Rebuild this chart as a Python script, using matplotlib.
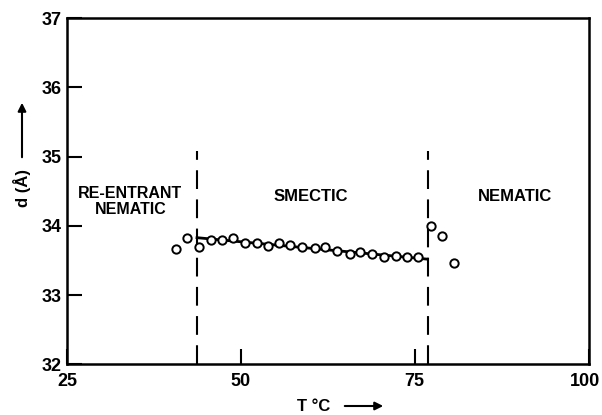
import matplotlib
matplotlib.use("Agg")
import matplotlib.pyplot as plt
import matplotlib.transforms as mtransforms

# Data
T_reentrant = [40.7, 42.3]
d_reentrant = [33.67, 33.83]
T_smectic = [44.0, 45.7, 47.3, 48.9, 50.6, 52.3, 53.9, 55.5, 57.1, 58.8, 60.7,
             62.1, 63.8, 65.7, 67.2, 68.8, 70.6, 72.3, 73.9, 75.5]
d_smectic = [33.69, 33.80, 33.79, 33.82, 33.76, 33.75, 33.71, 33.76, 33.72, 33.70, 33.68,
             33.70, 33.64, 33.60, 33.62, 33.59, 33.55, 33.57, 33.55, 33.55]
T_nematic = [77.3, 78.9, 80.6]
d_nematic = [34.00, 33.85, 33.47]
fit_T = [43.7, 76.85]
fit_d = [33.83, 33.52]
transitions = [43.7, 76.85]
xticks = [25, 50, 75, 100]
yticks = [32, 33, 34, 35, 36, 37]

plt.rcParams['font.family'] = ['Liberation Sans', 'DejaVu Sans']
fig = plt.figure(figsize=(6.02, 4.15), dpi=100)
ax = fig.add_axes([0.1113, 0.1217, 0.8663, 0.8349])
ax.set_xlim(25, 100)
ax.set_ylim(32, 37)

ax.plot(fit_T, fit_d, color='black', lw=2.0, zorder=2)
mk = dict(marker='o', ls='none', ms=6.0, mfc='white', mec='black', mew=1.4, zorder=3)
ax.plot(T_reentrant, d_reentrant, **mk)
ax.plot(T_smectic, d_smectic, **mk)
ax.plot(T_nematic, d_nematic, **mk)

for t in transitions:
    ax.plot([t, t], [32, 35.08], color='black', lw=1.5, dashes=(9, 5), zorder=1)

ax.text(34.1, 34.35, "RE-ENTRANT\nNEMATIC", ha='center', va='center', fontsize=11.5,
        fontweight='bold', linespacing=1.1)
ax.text(60.0, 34.42, "SMECTIC", ha='center', va='center', fontsize=12, fontweight='bold')
ax.text(89.4, 34.42, "NEMATIC", ha='center', va='center', fontsize=12, fontweight='bold')

ax.set_xticks(xticks)
ax.set_xticklabels([str(v) for v in xticks], fontsize=13, fontweight='bold')
ax.set_yticks(yticks)
ax.set_yticklabels([str(v) for v in yticks], fontsize=13, fontweight='bold')
ax.tick_params(axis='both', direction='in', length=11, width=1.5, top=False, right=False)
ax.tick_params(axis='x', pad=6)
ax.tick_params(axis='y', pad=4)
for s in ax.spines.values():
    s.set_linewidth(1.8)

# nudge the "100" label inward so it stays inside the figure
lbl = ax.get_xticklabels()[-1]
lbl.set_transform(lbl.get_transform() + mtransforms.ScaledTranslation(-4/100, 0, fig.dpi_scale_trans))

# axis labels with arrows
fig.text(22/602, 1-188/415, "d (Å)", rotation=90, ha='center', va='center', fontsize=12,
         fontweight='bold')
fig.add_artist(matplotlib.patches.FancyArrowPatch((22/602, 1-160/415), (22/602, 1-100/415),
               transform=fig.transFigure, arrowstyle='-|>', mutation_scale=12, lw=1.5,
               color='black'))
fig.text(314/602, 1-406/415, "T °C", ha='center', va='center', fontsize=12, fontweight='bold')
fig.add_artist(matplotlib.patches.FancyArrowPatch((342/602, 1-406/415), (386/602, 1-406/415),
               transform=fig.transFigure, arrowstyle='-|>', mutation_scale=12, lw=1.5,
               color='black'))

fig.savefig("out.png", dpi=100)
